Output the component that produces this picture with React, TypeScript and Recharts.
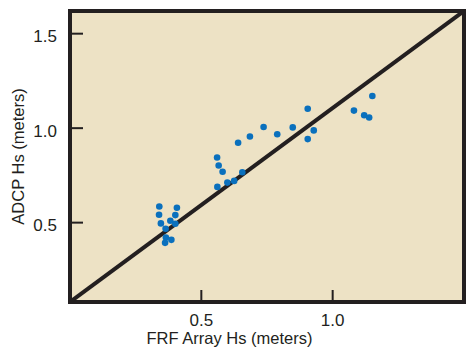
import React from "react";
import { ScatterChart, Scatter, XAxis, YAxis, ReferenceArea, CartesianGrid } from "recharts";

const frfHs = [0.34, 0.339, 0.407, 0.401, 0.346, 0.382, 0.401, 0.364, 0.365, 0.386, 0.362, 0.56, 0.566, 0.581, 0.561, 0.599, 0.625, 0.656, 0.64, 0.685, 0.737, 0.789, 0.848, 0.905, 0.928, 0.905, 1.081, 1.12, 1.139, 1.151];
const adcpHs = [0.585, 0.542, 0.579, 0.54, 0.496, 0.51, 0.494, 0.468, 0.421, 0.409, 0.393, 0.845, 0.802, 0.769, 0.689, 0.712, 0.721, 0.767, 0.923, 0.956, 1.006, 0.968, 1.004, 1.103, 0.988, 0.942, 1.093, 1.068, 1.056, 1.17];
const xTicks = [0.5, 1.0];
const yTicks = [0.5, 1.0, 1.5];
const xDomain: [number, number] = [0, 1.5];
const yDomain: [number, number] = [0.08, 1.62];

const points = frfHs.map((x, i) => ({ x, y: adcpHs[i] }));
const diagonal = [
  { x: xDomain[0], y: yDomain[0] },
  { x: xDomain[1], y: yDomain[1] },
];

const INK = "#231f20";
const FONT = "'Liberation Sans', Arial, sans-serif";

const YTick = (props: any) => {
  const { x, y, payload } = props;
  return (
    <g>
      <line x1={x + 13} x2={x + 26} y1={y} y2={y} stroke={INK} strokeWidth={2} />
      <text x={x} y={y + 8.5} textAnchor="end" fontSize={17} fill={INK} fontFamily={FONT}>
        {Number(payload.value).toFixed(1)}
      </text>
    </g>
  );
};

const XTick = (props: any) => {
  const { x, y, payload } = props;
  return (
    <g>
      <line x1={x} x2={x} y1={y - 12} y2={y} stroke={INK} strokeWidth={2} />
      <text x={x} y={y + 24} textAnchor="middle" fontSize={17} fill={INK} fontFamily={FONT}>
        {Number(payload.value).toFixed(1)}
      </text>
    </g>
  );
};

const Dot = (props: any) => {
  const { cx, cy } = props;
  return <circle cx={cx} cy={cy} r={3.3} fill="#0a70bd" />;
};

const NoShape = () => <g />;

export default function App() {
  return (
    <div style={{ position: "absolute", left: 8, top: 8, width: 458, height: 341, overflow: "hidden" }}>
      <ScatterChart width={458} height={341} margin={{ top: 3, right: 2, left: 2, bottom: 2 }}>
        <CartesianGrid horizontal={false} vertical={false} fill="#ede2c5" />
        <XAxis
          type="number"
          dataKey="x"
          domain={xDomain}
          ticks={xTicks}
          allowDataOverflow
          axisLine={false}
          tickLine={false}
          tickSize={0}
          tickMargin={0}
          height={45}
          tick={<XTick />}
          label={{
            content: () => (
              <text x={221.5} y={336} textAnchor="middle" fontSize={16.5} fill={INK} fontFamily={FONT}>
                FRF Array Hs (meters)
              </text>
            ),
          }}
        />
        <YAxis
          type="number"
          dataKey="y"
          domain={yDomain}
          ticks={yTicks}
          allowDataOverflow
          axisLine={false}
          tickLine={false}
          tickSize={0}
          tickMargin={13}
          width={60}
          tick={<YTick />}
          label={{
            content: () => (
              <text
                x={16}
                y={148.5}
                transform="rotate(-90, 16, 148.5)"
                textAnchor="middle"
                fontSize={16.5}
                fill={INK}
                fontFamily={FONT}
              >
                ADCP Hs (meters)
              </text>
            ),
          }}
        />
        <Scatter
          data={diagonal}
          line={{ stroke: INK, strokeWidth: 4 }}
          shape={NoShape}
          isAnimationActive={false}
          legendType="none"
        />
        <Scatter data={points} shape={<Dot />} isAnimationActive={false} />
        <ReferenceArea
          x1={xDomain[0]}
          x2={xDomain[1]}
          y1={yDomain[0]}
          y2={yDomain[1]}
          fill="none"
          stroke={INK}
          strokeWidth={4}
          ifOverflow="visible"
        />
      </ScatterChart>
    </div>
  );
}
